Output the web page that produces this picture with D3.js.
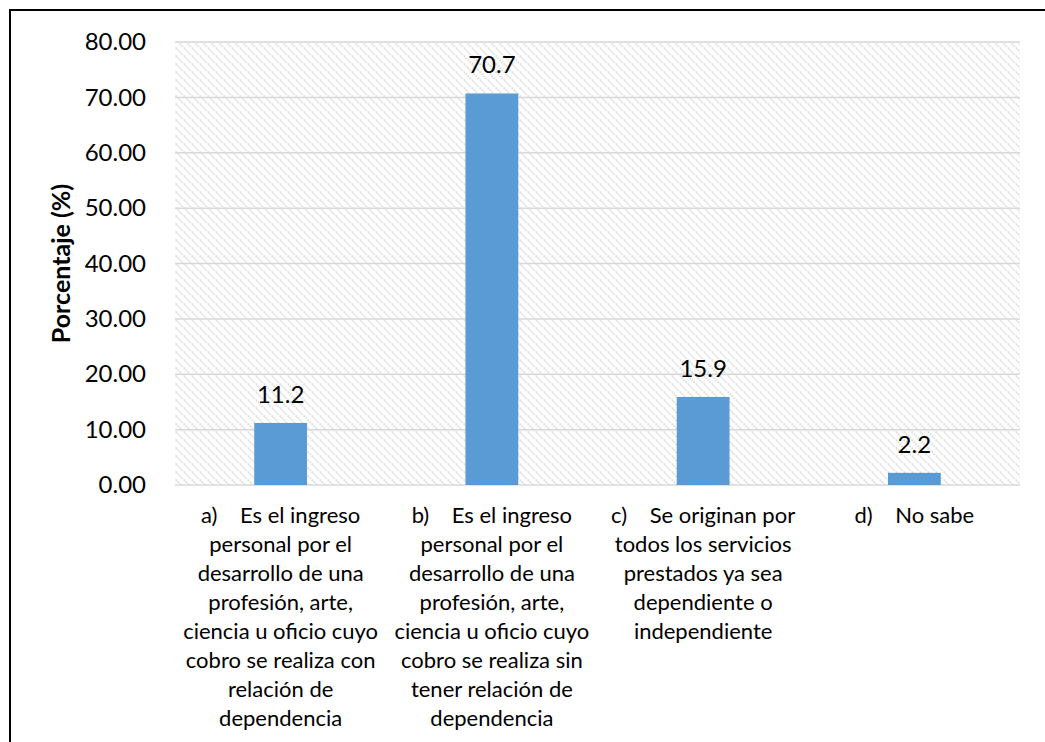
<!DOCTYPE html>
<html>
<head>
<meta charset="utf-8">
<script src="https://cdn.jsdelivr.net/npm/d3@7"></script>
<style>
  html, body { margin: 0; padding: 0; background: #fff; }
  svg { display: block; }
  text { font-family: Lato, "Open Sans", sans-serif; fill: #000; }
</style>
</head>
<body>
<svg id="chart" width="1045" height="742"></svg>
<script>
// Category keys and their wrapped axis labels
const categories = ["a", "b", "c", "d"];
const categoryLines = [
  ["a)\u00a0\u00a0\u00a0 Es el ingreso", "personal por el", "desarrollo de una", "profesión, arte,", "ciencia u oficio cuyo", "cobro se realiza con", "relación de", "dependencia"],
  ["b)\u00a0\u00a0\u00a0 Es el ingreso", "personal por el", "desarrollo de una", "profesión, arte,", "ciencia u oficio cuyo", "cobro se realiza sin", "tener relación de", "dependencia"],
  ["c)\u00a0\u00a0\u00a0 Se originan por", "todos los servicios", "prestados ya sea", "dependiente o", "independiente"],
  ["d)\u00a0\u00a0\u00a0 No sabe"]
];
// Percentage per category
const values = [11.2, 70.7, 15.9, 2.2];
const valueLabels = ["11.2", "70.7", "15.9", "2.2"];
// Y axis ticks
const yTicks = [0, 10, 20, 30, 40, 50, 60, 70, 80];
const yTitle = "Porcentaje (%)";

const svg = d3.select("#chart");
const plot = { left: 175, right: 1020, top: 42, bottom: 485 };

// Outer frame (open on right and bottom)
svg.append("path")
  .attr("d", "M10,742 L10,10 L1045,10")
  .attr("fill", "none")
  .attr("stroke", "#000")
  .attr("stroke-width", 2);

// Diagonal hatch background
const defs = svg.append("defs");
const pat = defs.append("pattern")
  .attr("id", "hatch")
  .attr("patternUnits", "userSpaceOnUse")
  .attr("width", 8).attr("height", 8);
pat.append("rect").attr("width", 8).attr("height", 8).attr("fill", "#fff");
pat.append("path")
  .attr("d", "M-2,-2 L10,10 M-6,2 L2,10 M6,-2 L10,2")
  .attr("stroke", "#dcdcdc")
  .attr("stroke-width", 2)
  .attr("stroke-dasharray", "1.5,1.2");

const x = d3.scaleBand()
  .domain(categories)
  .range([plot.left, plot.right])
  .paddingInner(0.75)
  .paddingOuter(0.375);

const y = d3.scaleLinear()
  .domain([0, 80])
  .range([plot.bottom, plot.top]);

svg.append("rect")
  .attr("x", plot.left).attr("y", plot.top)
  .attr("width", plot.right - plot.left)
  .attr("height", plot.bottom - plot.top)
  .attr("fill", "url(#hatch)");

// Gridlines
svg.append("g")
  .selectAll("line")
  .data(yTicks)
  .join("line")
  .attr("x1", plot.left).attr("x2", plot.right)
  .attr("y1", d => y(d)).attr("y2", d => y(d))
  .attr("stroke", "#d9d9d9")
  .attr("stroke-width", 1.5);

// Y axis labels
const yAxis = d3.axisLeft(y)
  .tickValues(yTicks)
  .tickFormat(d3.format(".2f"))
  .tickSize(0)
  .tickPadding(29);
const gy = svg.append("g")
  .attr("transform", `translate(${plot.left},0)`)
  .call(yAxis);
gy.select(".domain").remove();
gy.selectAll("text")
  .style("font-family", "Lato, 'Open Sans', sans-serif")
  .style("font-size", "24px")
  .attr("fill", "#000");

// Y axis title
svg.append("text")
  .attr("transform", `translate(70,${(plot.top + plot.bottom) / 2}) rotate(-90)`)
  .attr("text-anchor", "middle")
  .style("font-size", "25px")
  .style("font-weight", "bold")
  .text(yTitle);

// Bars
svg.append("g")
  .selectAll("rect")
  .data(values)
  .join("rect")
  .attr("x", (d, i) => x(categories[i]))
  .attr("width", x.bandwidth())
  .attr("y", d => y(d))
  .attr("height", d => y(0) - y(d))
  .attr("fill", "#5b9bd5");

// Value labels
svg.append("g")
  .selectAll("text")
  .data(values)
  .join("text")
  .attr("x", (d, i) => x(categories[i]) + x.bandwidth() / 2)
  .attr("y", d => y(d) - 20)
  .attr("text-anchor", "middle")
  .style("font-size", "24px")
  .text((d, i) => valueLabels[i]);

// Category labels
const cat = svg.append("g")
  .selectAll("text")
  .data(categoryLines)
  .join("text")
  .attr("text-anchor", "middle")
  .style("font-size", "22px")
  .attr("transform", (d, i) => `translate(${x(categories[i]) + x.bandwidth() / 2},${plot.bottom + 38})`);
cat.selectAll("tspan")
  .data(d => d)
  .join("tspan")
  .attr("x", 0)
  .attr("y", (d, j) => j * 29)
  .text(d => d);
</script>
</body>
</html>
